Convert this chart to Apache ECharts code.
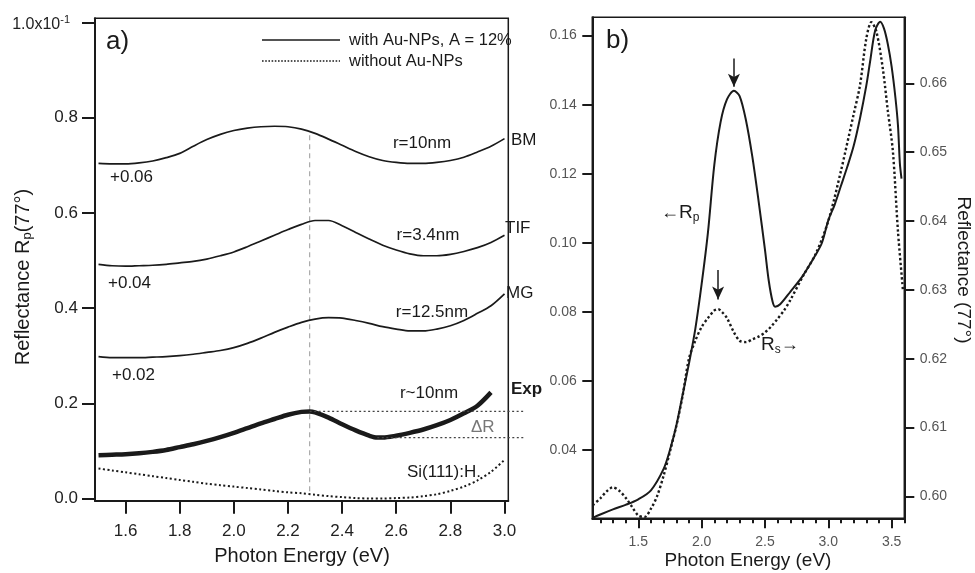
<!DOCTYPE html>
<html>
<head>
<meta charset="utf-8">
<script src="https://cdn.jsdelivr.net/npm/echarts@6/dist/echarts.min.js"></script>
<style>
  html, body { margin: 0; padding: 0; background: #fff; }
  #chart { width: 975px; height: 573px; }
</style>
</head>
<body>
<div id="chart"></div>
<script>
// ---------- Panel a) : p-polarised reflectance, model curves and experiment ----------
// photon energy grid shared by the model curves (eV)
const eModel = [1.50,1.55,1.60,1.65,1.70,1.75,1.80,1.85,1.90,1.95,2.00,2.05,2.10,2.15,2.20,2.25,
                2.30,2.35,2.40,2.45,2.50,2.55,2.60,2.65,2.70,2.75,2.80,2.85,2.90,2.95,3.00];
// Bruggeman (r = 10 nm), offset +0.06
const bm  = [0.0704,0.0703,0.0703,0.0705,0.0709,0.0716,0.0725,0.0740,0.0754,0.0765,0.0773,0.0778,0.0781,0.0782,0.0781,0.0776,
             0.0767,0.0755,0.0742,0.0729,0.0718,0.0710,0.0706,0.0704,0.0704,0.0706,0.0710,0.0717,0.0728,0.0740,0.0756];
// thin island film (r = 3.4 nm), offset +0.04
const tif = [0.0492,0.0489,0.0488,0.0489,0.0490,0.0492,0.0495,0.0498,0.0503,0.0510,0.0518,0.0529,0.0541,0.0553,0.0565,0.0576,
             0.0584,0.0584,0.0573,0.0559,0.0545,0.0532,0.0522,0.0514,0.0510,0.0510,0.0513,0.0519,0.0527,0.0538,0.0553];
// Maxwell-Garnett (r = 12.5 nm), offset +0.02
const mg  = [0.0298,0.0296,0.0296,0.0296,0.0297,0.0298,0.0300,0.0303,0.0307,0.0311,0.0317,0.0326,0.0337,0.0349,0.0360,0.0370,
             0.0377,0.0380,0.0379,0.0374,0.0368,0.0361,0.0356,0.0352,0.0352,0.0356,0.0363,0.0374,0.0389,0.0405,0.0430];
// bare Si(111):H surface
const siH = [0.0063,0.0059,0.0055,0.0051,0.0047,0.0043,0.0039,0.0035,0.0031,0.0028,0.0025,0.0022,0.0019,0.0016,0.0013,0.0011,
             0.0008,0.0005,0.0003,0.0001,0.0000,0.0000,0.0001,0.0002,0.0005,0.0009,0.0016,0.0025,0.0038,0.0056,0.0081];
// measured spectrum with Au nanoparticles
const eExp = [1.50,1.55,1.60,1.65,1.70,1.75,1.80,1.85,1.90,1.95,2.00,2.05,2.10,2.15,2.20,2.25,2.28,2.30,
              2.35,2.40,2.45,2.50,2.53,2.55,2.60,2.65,2.70,2.75,2.80,2.85,2.90,2.95];
const rExp = [0.0091,0.0092,0.0093,0.0095,0.0098,0.0102,0.0108,0.0114,0.0121,0.0129,0.0138,0.0148,0.0158,0.0167,0.0176,0.0182,0.0183,0.0181,
              0.0170,0.0156,0.0143,0.0132,0.0128,0.0128,0.0132,0.0138,0.0145,0.0154,0.0165,0.0179,0.0195,0.0223];
const ticksXA = [1.6,1.8,2.0,2.2,2.4,2.6,2.8,3.0];
const ticksYA = [0,0.02,0.04,0.06,0.08,0.1];
const plasmonWindow = 2.6;       // the Exp resonance is looked for below this energy (eV)
const deltaREnd = 3.07;          // where the ΔR guide lines stop (eV), past the frame
const guideTopBM = 0.0770;       // dashed marker ends on the BM curve

// ---------- Panel b) : Rp (left axis) and Rs (right axis) ----------
const eRp = [1.14,1.20,1.30,1.40,1.50,1.60,1.70,1.75,1.80,1.85,1.90,1.95,2.00,2.05,2.10,2.15,2.20,2.255,2.30,2.35,
             2.40,2.45,2.50,2.53,2.56,2.58,2.62,2.70,2.80,2.90,2.95,3.00,3.05,3.10,3.15,3.20,3.25,3.30,3.33,3.37,
             3.41,3.44,3.47,3.50,3.53,3.55,3.565,3.578];
const rp  = [0.0203,0.0213,0.0228,0.0241,0.0257,0.0283,0.0345,0.0400,0.0470,0.0560,0.0650,0.0750,0.0880,0.1030,0.1225,0.1350,0.1415,0.1440,0.1425,0.1355,
             0.1250,0.1120,0.0980,0.0890,0.0830,0.0815,0.0822,0.0858,0.0905,0.0965,0.1000,0.1065,0.1110,0.1165,0.1220,0.1280,0.1360,0.1455,0.1525,0.1615,
             0.1640,0.1620,0.1575,0.1510,0.1420,0.1340,0.1230,0.1186];
const eRs = [1.14,1.20,1.25,1.30,1.35,1.40,1.45,1.50,1.55,1.60,1.65,1.70,1.75,1.80,1.85,1.90,1.95,2.00,2.05,2.10,
             2.13,2.16,2.20,2.25,2.30,2.35,2.40,2.45,2.50,2.55,2.60,2.65,2.70,2.80,2.90,3.00,3.10,3.20,3.25,3.30,
             3.34,3.38,3.43,3.47,3.51,3.55,3.59];
const rs  = [0.5987,0.5997,0.6007,0.6013,0.6008,0.5998,0.5985,0.5972,0.5970,0.5982,0.6001,0.6030,0.6065,0.6102,0.6146,0.6200,0.6226,0.6246,0.6259,0.6270,
             0.6272,0.6268,0.6259,0.6240,0.6226,0.6224,0.6228,0.6232,0.6238,0.6247,0.6258,0.6270,0.6285,0.6320,0.6352,0.6400,0.6473,0.6555,0.6597,0.6665,
             0.6689,0.6675,0.6622,0.6560,0.6501,0.6385,0.6298];
const ticksXB = [1.5,2.0,2.5,3.0,3.5];
const minorXB = [1.2,1.3,1.4,1.6,1.7,1.8,1.9,2.1,2.2,2.3,2.4,2.6,2.7,2.8,2.9,3.1,3.2,3.3,3.4,3.6];
const ticksYB = [0.04,0.06,0.08,0.10,0.12,0.14,0.16];
const ticksYB2 = [0.60,0.61,0.62,0.63,0.64,0.65,0.66];
// plasmon markers: [energy, arrow start, arrow tip] on the Rp scale
const arrowRp = [2.255, 0.1534, 0.1452];
const arrowRs = [2.130, 0.0921, 0.0836];

// ---------- helpers ----------
const FONT = '"Liberation Sans", Arial, Helvetica, sans-serif';
const INK = '#1a1a1a';
const pairs = (xs, ys) => xs.map((x, i) => [x, ys[i]]);

// resonance maximum of Exp and the minimum that follows it (ΔR guides)
let iMax = 0;
rExp.forEach((v, i) => { if (eExp[i] < plasmonWindow && v > rExp[iMax]) iMax = i; });
let iMin = iMax;
for (let i = iMax; i < rExp.length && eExp[i] < plasmonWindow + 0.2; i++) if (rExp[i] < rExp[iMin]) iMin = i;

function lineSeries(name, data, xi, yi, style, extra) {
  return Object.assign({
    name, type: 'line', data, xAxisIndex: xi, yAxisIndex: yi,
    showSymbol: false, symbol: 'none', smooth: 0.3, silent: true,
    lineStyle: Object.assign({ color: INK, width: 1.6 }, style)
  }, extra || {});
}

function txt(text, x, y, opt) {
  opt = opt || {};
  return {
    type: 'text', x, y, rotation: opt.rotation || 0, silent: true,
    style: Object.assign({
      text, fill: opt.fill || INK, fontFamily: FONT, fontSize: opt.size || 17,
      fontWeight: opt.weight || 'normal',
      align: opt.align || 'left', verticalAlign: 'middle',
      textAlign: opt.align || 'left', textVerticalAlign: 'middle'
    }, opt.rich ? { rich: opt.rich } : {})
  };
}

const subRich = (size) => ({
  n: { fontSize: size, fontFamily: FONT, color: INK, fill: INK },
  s: { fontSize: Math.round(size * 0.65), fontFamily: FONT, color: INK, fill: INK, padding: [Math.round(size * 0.45), 0, 0, 0] }
});

const chart = echarts.init(document.getElementById('chart'), null, { renderer: 'canvas' });

const textElements = [
  // panel labels
  txt('a)', 106, 42, { size: 26 }),
  txt('b)', 606, 41, { size: 26 }),
  // legend of panel a)
  { type: 'line', silent: true, shape: { x1: 262, y1: 40, x2: 340, y2: 40 }, style: { stroke: INK, lineWidth: 1.4 } },
  { type: 'line', silent: true, shape: { x1: 262, y1: 61, x2: 340, y2: 61 }, style: { stroke: INK, lineWidth: 1.6, lineDash: [1.6, 1.6] } },
  txt('with Au-NPs, A = 12%', 349, 40, { size: 16.5 }),
  txt('without Au-NPs', 349, 61, { size: 16.5 }),
  // curve annotations, panel a)
  txt('+0.06', 110, 177),
  txt('+0.04', 108, 283),
  txt('+0.02', 112, 375),
  txt('r=10nm', 422, 143, { align: 'center' }),
  txt('BM', 511, 140),
  txt('r=3.4nm', 428, 235, { align: 'center' }),
  txt('TIF', 505, 228),
  txt('r=12.5nm', 432, 312, { align: 'center' }),
  txt('MG', 506, 293),
  txt('r~10nm', 429, 393, { align: 'center' }),
  txt('Exp', 511, 389, { weight: 'bold' }),
  txt('ΔR', 471, 427, { fill: '#777' }),
  txt('Si(111):H.', 407, 472),
  // axis titles, panel a)
  txt('Photon Energy (eV)', 302, 556, { size: 20, align: 'center' }),
  txt('{n|Reflectance R}{s|p}{n|(77°)}', 23, 277, { size: 20, align: 'center', rotation: Math.PI / 2, rich: subRich(20) }),
  // axis titles, panel b)
  txt('Photon Energy (eV)', 748, 561, { size: 19, align: 'center' }),
  txt('Reflectance (77°)', 963, 270, { size: 19, align: 'center', rotation: -Math.PI / 2 }),
  // Rp / Rs axis pointers
  txt('{a|←}{n|R}{s|p}', 661, 213, { size: 19, rich: Object.assign({ a: { fontSize: 18, fontFamily: FONT, fill: INK, color: INK } }, subRich(19)) }),
  txt('{n|R}{s|s}{a|→}', 761, 345, { size: 19, rich: Object.assign({ a: { fontSize: 18, fontFamily: FONT, fill: INK, color: INK } }, subRich(19)) })
];

const option = {
  animation: false,
  backgroundColor: '#ffffff',
  grid: [
    { left: 95, top: 18.3, width: 413.3, height: 482.4, show: true, borderColor: INK, borderWidth: 1.5, backgroundColor: 'transparent' },
    { left: 592.3, top: 17.3, width: 312, height: 501, show: true, borderColor: INK, borderWidth: 1.5, backgroundColor: 'transparent' }
  ],
  xAxis: [
    {
      type: 'value', gridIndex: 0, min: 1.487, max: 3.014, position: 'bottom',
      axisLine: { show: true, onZero: false, lineStyle: { color: INK, width: 2 } },
      axisTick: { show: true, length: 13, customValues: ticksXA, lineStyle: { color: INK, width: 2 } },
      axisLabel: { customValues: ticksXA, formatter: v => v.toFixed(1), fontSize: 17, fontFamily: FONT, color: '#222', margin: 22 },
      splitLine: { show: false }
    },
    {
      type: 'value', gridIndex: 1, min: 1.137, max: 3.6, position: 'bottom',
      axisLine: { show: true, onZero: false, lineStyle: { color: INK, width: 2 } },
      axisTick: { show: true, length: 10, customValues: ticksXB, lineStyle: { color: INK, width: 2 } },
      axisLabel: { customValues: ticksXB, formatter: v => v.toFixed(1), fontSize: 14, fontFamily: FONT, color: '#555', margin: 17 },
      splitLine: { show: false }
    },
    {
      type: 'value', gridIndex: 1, min: 1.137, max: 3.6, position: 'bottom',
      axisLine: { show: false, onZero: false },
      axisTick: { show: true, length: 5, customValues: minorXB, lineStyle: { color: INK, width: 2 } },
      axisLabel: { show: false },
      splitLine: { show: false }
    }
  ],
  yAxis: [
    {
      type: 'value', gridIndex: 0, min: -0.00046, max: 0.10088, position: 'left',
      axisLine: { show: true, onZero: false, lineStyle: { color: INK, width: 2 } },
      axisTick: { show: true, length: 13, customValues: ticksYA, lineStyle: { color: INK, width: 2 } },
      axisLabel: {
        customValues: ticksYA, fontSize: 17, fontFamily: FONT, color: '#222', margin: 17,
        formatter: v => v > 0.0999 ? '{m|1.0x10}{e|-1}' : (v * 10).toFixed(1),
        rich: {
          m: { fontSize: 16, fontFamily: FONT, color: '#222', padding: [4, 0, 0, 0] },
          e: { fontSize: 11, fontFamily: FONT, color: '#222', padding: [0, 8, 6, 0] }
        }
      },
      splitLine: { show: false }
    },
    {
      type: 'value', gridIndex: 1, min: 0.0202, max: 0.1653, position: 'left',
      axisLine: { show: true, onZero: false, lineStyle: { color: INK, width: 2 } },
      axisTick: { show: true, length: 10, customValues: ticksYB, lineStyle: { color: INK, width: 2 } },
      axisLabel: { customValues: ticksYB, formatter: v => v.toFixed(2), fontSize: 14, fontFamily: FONT, color: '#555', margin: 15.5 },
      splitLine: { show: false }
    },
    {
      type: 'value', gridIndex: 1, min: 0.5968, max: 0.6696, position: 'right',
      axisLine: { show: true, onZero: false, lineStyle: { color: INK, width: 2 } },
      axisTick: { show: true, length: 10, customValues: ticksYB2, lineStyle: { color: INK, width: 2 } },
      axisLabel: { customValues: ticksYB2, formatter: v => v.toFixed(2), fontSize: 14, fontFamily: FONT, color: '#555', margin: 15.5 },
      splitLine: { show: false }
    }
  ],
  series: [
    // panel a)
    lineSeries('guide', [[eExp[iMax], 0.0015], [eExp[iMax], guideTopBM]], 0, 0,
               { color: '#aaaaaa', width: 1.2, type: [5, 4] }, { smooth: false }),
    lineSeries('BM', pairs(eModel, bm), 0, 0, { width: 1.7 }),
    lineSeries('TIF', pairs(eModel, tif), 0, 0, { width: 1.7 }),
    lineSeries('MG', pairs(eModel, mg), 0, 0, { width: 1.7 }),
    lineSeries('Si(111):H', pairs(eModel, siH), 0, 0, { width: 2, type: [2, 2.5] }),
    lineSeries('Exp', pairs(eExp, rExp), 0, 0, { width: 4.5 }),
    // panel b)
    lineSeries('Rs', pairs(eRs, rs), 1, 2, { width: 2.4, type: [2.4, 2.4] }),
    lineSeries('Rp', pairs(eRp, rp), 1, 1, { width: 2 }, {
      markLine: {
        silent: true, symbol: ['none', 'arrow'], symbolSize: [9, 13],
        label: { show: false },
        lineStyle: { color: INK, width: 1.5, type: 'solid' },
        data: [
          [{ coord: [arrowRp[0], arrowRp[1]] }, { coord: [arrowRp[0], arrowRp[2]] }],
          [{ coord: [arrowRs[0], arrowRs[1]] }, { coord: [arrowRs[0], arrowRs[2]] }]
        ]
      }
    })
  ],
  graphic: { elements: textElements }
};

chart.setOption(option);

// ΔR guide lines: from the Exp maximum / minimum to beyond the right frame,
// placed through the panel a) axes
function guideLine(e0, r) {
  const p0 = chart.convertToPixel({ gridIndex: 0 }, [e0, r]);
  const p1 = chart.convertToPixel({ gridIndex: 0 }, [deltaREnd, r]);
  return { type: 'line', silent: true, z: 5,
           shape: { x1: p0[0], y1: p0[1], x2: p1[0], y2: p1[1] },
           style: { stroke: '#444', lineWidth: 1.4, lineDash: [2, 2.5] } };
}
chart.setOption({
  graphic: { elements: textElements.concat([
    guideLine(eExp[iMax], rExp[iMax]),
    guideLine(eExp[iMin], rExp[iMin])
  ]) }
});
</script>
</body>
</html>
